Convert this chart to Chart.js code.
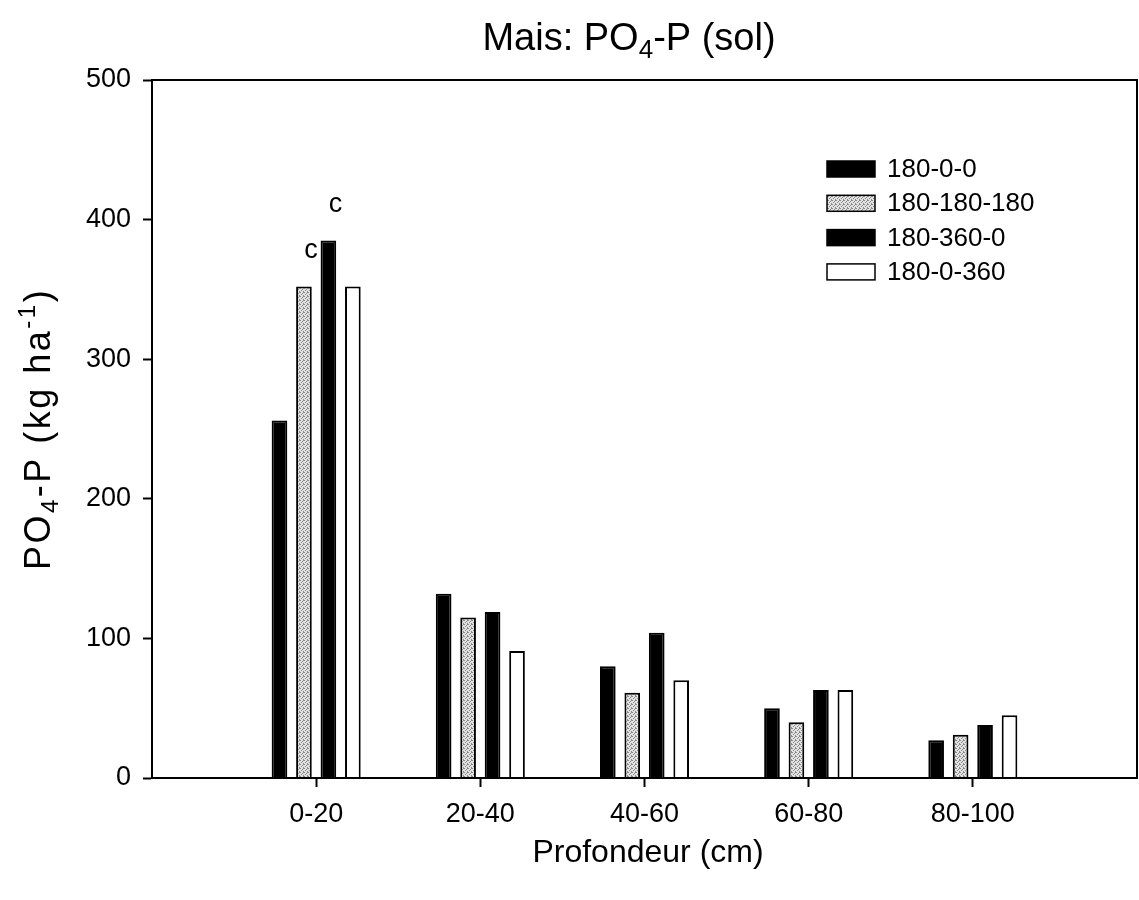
<!DOCTYPE html>
<html><head><meta charset="utf-8">
<script src="https://cdn.jsdelivr.net/npm/chart.js@4/dist/chart.umd.min.js"></script>
<style>html,body{margin:0;padding:0;background:#fff}#wrap{width:1139px;height:900px;position:relative}</style>
</head><body><div id="wrap"><canvas id="c" width="1139" height="900"></canvas></div>
<script>
// ---- data ----
const depthLabels = ['', '0-20', '20-40', '40-60', '60-80', '80-100', ''];
const seriesNames = ['180-0-0', '180-180-180', '180-360-0', '180-0-360'];
const s180_0_0     = [null, 256, 132, 80, 50, 27, null];
const s180_180_180 = [null, 352, 115, 61, 40, 31, null];
const s180_360_0   = [null, 385, 119, 104, 63, 38, null];
const s180_0_360   = [null, 352, 91, 70, 63, 45, null];
const yTickValues  = [0, 100, 200, 300, 400, 500];
const letters180_180_180 = ['', 'c', '', '', '', '', ''];
const letters180_360_0   = ['', 'c', '', '', '', '', ''];

const FONT = "'Liberation Sans', Arial, Helvetica, sans-serif";

function stipple() {
  const p = document.createElement('canvas');
  p.width = 4; p.height = 4;
  const g = p.getContext('2d');
  g.fillStyle = '#e2e2e2'; g.fillRect(0, 0, 4, 4);
  g.fillStyle = '#8a8a8a';
  [[0,0],[2,1],[1,2],[3,3],[3,0]].forEach(([x,y]) => g.fillRect(x, y, 1, 1));
  return g.createPattern(p, 'repeat');
}
const ctx0 = document.getElementById('c').getContext('2d');
const greyFill = stipple();

const fills = ['#000000', greyFill, '#000000', '#ffffff'];
const values = [s180_0_0, s180_180_180, s180_360_0, s180_0_360];
const letterSets = [null, letters180_180_180, letters180_360_0, null];

const datasets = seriesNames.map((n, i) => ({
  label: n,
  data: values[i],
  backgroundColor: fills[i],
  borderColor: '#000',
  borderWidth: 2,
  categoryPercentage: 0.596,
  barPercentage: 0.64
}));

function drawRich(ctx, parts, x, y, size, align, spacing) {
  ctx.save();
  const sp = (spacing || 0) + 'px';
  let total = 0;
  const widths = parts.map(([t, m]) => {
    ctx.font = (m === 'n' ? size : Math.round(size * 0.68)) + 'px ' + FONT;
    ctx.letterSpacing = sp;
    const w = ctx.measureText(t).width; total += w; return w;
  });
  let cx = align === 'center' ? x - total / 2 : x;
  ctx.textBaseline = 'alphabetic';
  ctx.textAlign = 'left';
  parts.forEach(([t, m], i) => {
    const s = m === 'n' ? size : Math.round(size * 0.68);
    ctx.font = s + 'px ' + FONT;
    ctx.letterSpacing = sp;
    const dy = m === 'sub' ? size * 0.22 : (m === 'sup' ? -size * 0.42 : 0);
    ctx.fillText(t, cx, y + dy);
    cx += widths[i];
  });
  ctx.restore();
}

const decor = {
  id: 'decor',
  afterDraw(chart) {
    const ctx = chart.ctx, a = chart.chartArea;
    ctx.save();
    ctx.fillStyle = '#000';
    ctx.strokeStyle = '#000'; ctx.lineWidth = 2;
    ctx.strokeRect(a.left, a.top, a.right - a.left, a.bottom - a.top);
    drawRich(ctx, [['Mais: PO', 'n'], ['4', 'sub'], ['-P (sol)', 'n']], 629, 50, 38, 'center');
    drawRich(ctx, [['Profondeur (cm)', 'n']], 648, 862, 32, 'center');
    ctx.save();
    ctx.translate(50, (a.top + a.bottom) / 2);
    ctx.rotate(-Math.PI / 2);
    drawRich(ctx, [['PO', 'n'], ['4', 'sub'], ['-P (kg ha', 'n'], ['-1', 'sup'], [')', 'n']], 0, 0, 36, 'center', 2.5);
    ctx.restore();
    ctx.font = '27px ' + FONT; ctx.textAlign = 'center'; ctx.textBaseline = 'alphabetic';
    letterSets.forEach((set, di) => {
      if (!set) return;
      const meta = chart.getDatasetMeta(di);
      set.forEach((t, j) => {
        if (!t) return;
        const el = meta.data[j];
        ctx.fillText(t, el.x + 7, el.y - 29);
      });
    });
    ctx.font = '26px ' + FONT; ctx.textAlign = 'left'; ctx.textBaseline = 'middle';
    chart.data.datasets.forEach((ds, i) => {
      const cy = 169 + i * 34.3;
      ctx.fillStyle = ds.backgroundColor;
      ctx.fillRect(827, cy - 8, 48, 16);
      ctx.lineWidth = 1.5; ctx.strokeStyle = '#000';
      ctx.strokeRect(827, cy - 8, 48, 16);
      ctx.fillStyle = '#000';
      ctx.fillText(ds.label, 887, cy + 1);
    });
    ctx.restore();
  }
};

new Chart(ctx0, {
  type: 'bar',
  data: { labels: depthLabels, datasets },
  options: {
    responsive: false,
    animation: false,
    devicePixelRatio: 1,
    layout: { autoPadding: false, padding: { top: 80, right: 2, left: 0, bottom: 0 } },
    plugins: { legend: { display: false }, title: { display: false }, tooltip: { enabled: false } },
    scales: {
      x: {
        type: 'category',
        offset: false,
        grid: {
          offset: false, drawOnChartArea: false, drawTicks: true, tickLength: 9,
          tickWidth: 2,
          tickColor: (c) => (c.index === 0 || c.index === depthLabels.length - 1) ? 'rgba(0,0,0,0)' : '#000'
        },
        border: { display: true, color: '#000', width: 2 },
        ticks: { color: '#000', font: { family: FONT, size: 27 }, padding: 11, maxRotation: 0, autoSkip: false },
        afterFit(s) { s.height = 122; s.paddingLeft = 0; s.paddingRight = 0; }
      },
      y: {
        min: 0, max: 500,
        afterBuildTicks(s) { s.ticks = yTickValues.map(v => ({ value: v })); },
        grid: { drawOnChartArea: false, drawTicks: true, tickLength: 9, tickWidth: 2, tickColor: '#000' },
        border: { display: true, color: '#000', width: 2 },
        ticks: { color: '#000', font: { family: FONT, size: 27 }, padding: 12 },
        afterFit(s) { s.width = 152; s.paddingLeft = 0; s.paddingRight = 0; }
      }
    }
  },
  plugins: [decor]
});
</script></body></html>
